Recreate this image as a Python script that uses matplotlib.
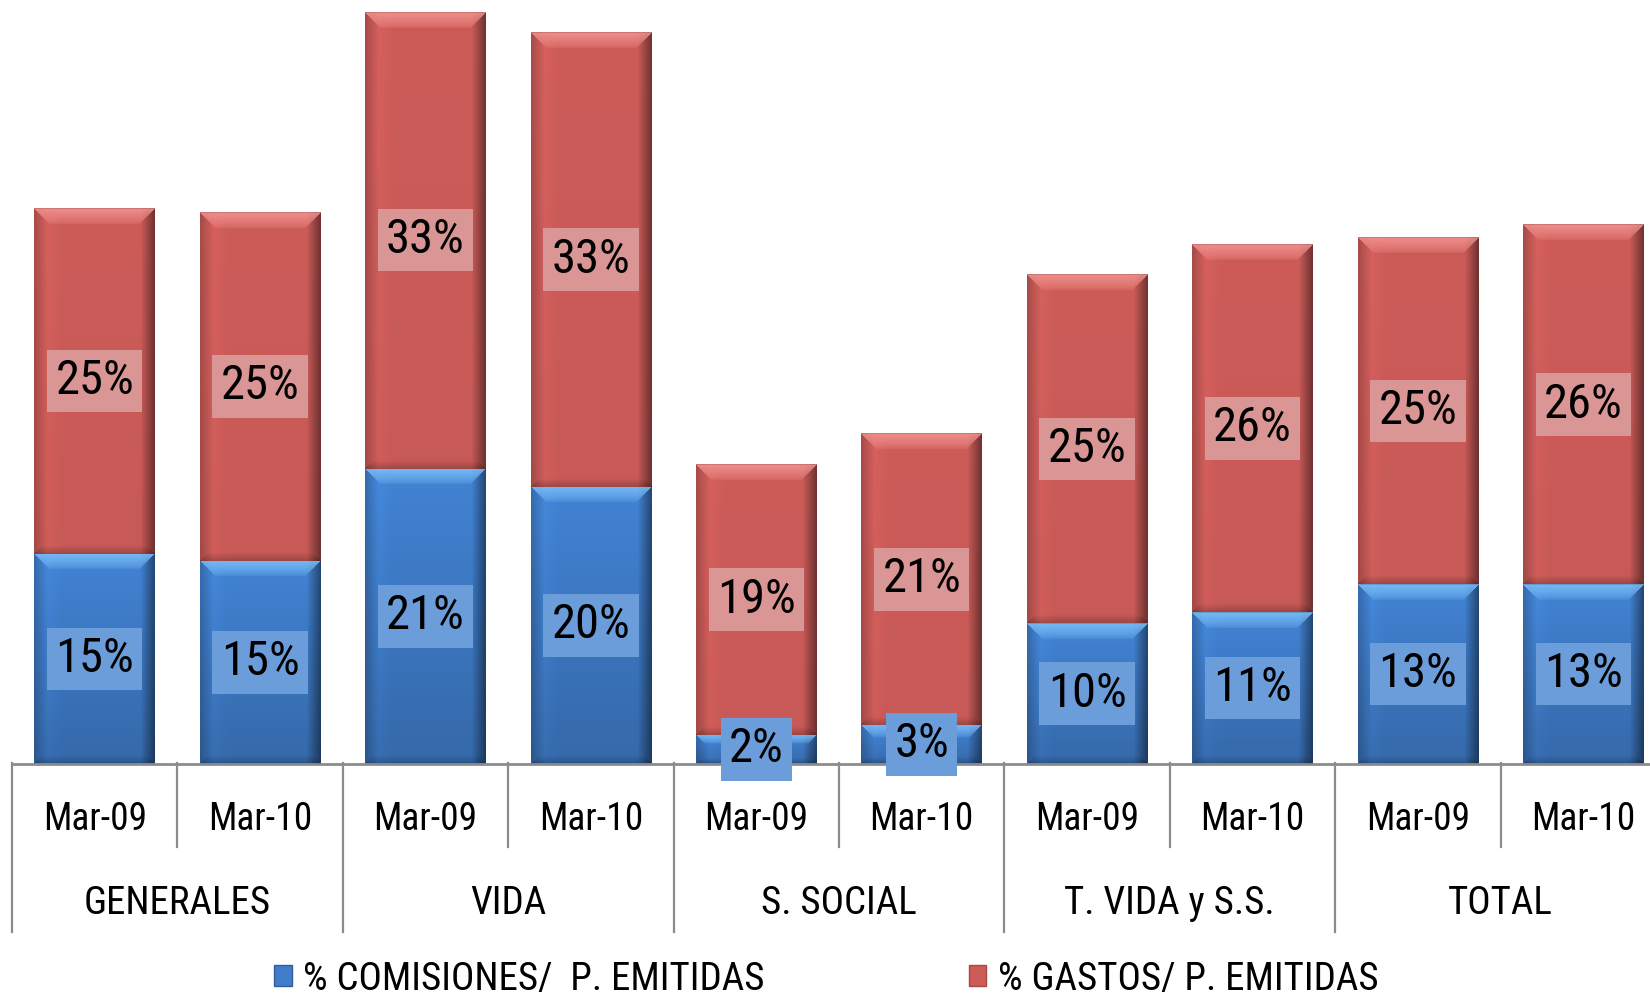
import numpy as np
import matplotlib
matplotlib.use("Agg")
import matplotlib.pyplot as plt
from matplotlib.colors import to_rgb
from matplotlib.patches import Patch
from matplotlib.transforms import blended_transform_factory

plt.rcParams['font.family'] = ['Liberation Sans Narrow', 'Roboto Condensed', 'Open Sans Condensed',
                               'Liberation Sans', 'DejaVu Sans']

# data (% of premiums)
groups = ['GENERALES', 'VIDA', 'S. SOCIAL', 'T. VIDA y S.S.', 'TOTAL']
periods = ['Mar-09', 'Mar-10']
comisiones = [15.1, 14.6, 21.2, 19.9, 2.1, 2.8, 10.1, 10.9, 12.9, 12.9]
gastos = [24.8, 25.0, 32.8, 32.6, 19.4, 20.9, 25.0, 26.4, 24.9, 25.8]
series_names = ['% COMISIONES/  P. EMITIDAS', '% GASTOS/ P. EMITIDAS']

BLUE = '#3F7DCA'
RED = '#CD5C59'
BLUE_LIGHT = '#7DC1FA'
RED_LIGHT = '#F49491'
BLUE_BOX = '#6C9DDB'
RED_BOX = '#DA9695'
GRID_GRAY = '#8C8C8C'

W, H = 1650, 1001
fig = plt.figure(figsize=(W / 100, H / 100), dpi=100)
ax = fig.add_axes([12 / W, 1 - 764 / H, 1654 / W, 764 / H])
ax.set_xlim(0, 10)
ax.set_ylim(0, 764 / 13.93)

x = np.arange(len(comisiones)) + 0.5
bw = 0.73
b1 = ax.bar(x, comisiones, bw, color=BLUE, zorder=2)
b2 = ax.bar(x, gastos, bw, bottom=comisiones, color=RED, zorder=2)


def bevel(color, light, w, h, vtop, vbot):
    base = np.array(to_rgb(color))
    lt = np.array(to_rgb(light))
    img = np.ones((h, w, 3)) * base
    v = np.linspace(vtop, vbot, h)[:, None]
    hf = np.ones(w)
    s = max(3, min(14, w // 8))
    hf[:s] = np.linspace(0.82, 1.04, s)
    hf[s:2 * s] = np.linspace(1.04, 1.0, s)
    hf[-s:] = np.linspace(0.97, 0.55, s)
    img = img * v[:, :, None] * hf[None, :, None]
    tb = max(2, min(16, h // 3))
    for r in range(tb):
        c0, c1 = r, w - r
        wt = 0.85 * (1 - r / tb) ** 0.6
        img[r, c0:c1] = img[r, c0:c1] * (1 - wt) + lt * wt
    img[0, :] = img[0, :] * 0.85
    bb = max(1, min(8, h // 5))
    for k in range(bb):
        r = h - 1 - k
        img[r, k:w - k] = img[r, k:w - k] * (0.8 + 0.2 * k / bb)
    return np.clip(img, 0, 1)


def shade(bars, color, light, vtop, vbot):
    for p in bars:
        x0, y0 = p.get_x(), p.get_y()
        x1, y1 = x0 + p.get_width(), y0 + p.get_height()
        (px0, py0), (px1, py1) = ax.transData.transform([(x0, y0), (x1, y1)])
        w = max(4, int(round(px1 - px0)))
        h = max(4, int(round(py1 - py0)))
        ax.imshow(bevel(color, light, w, h, vtop, vbot), extent=(x0, x1, y0, y1),
                  origin='upper', aspect='auto', interpolation='bilinear', zorder=2.1)


shade(b1, BLUE, BLUE_LIGHT, 1.05, 0.84)
shade(b2, RED, RED_LIGHT, 1.0, 0.97)
ax.set_xlim(0, 10)
ax.set_ylim(0, 764 / 13.93)

# data labels
for bars, vals, box in [(b1, comisiones, BLUE_BOX), (b2, gastos, RED_BOX)]:
    for p, v in zip(bars, vals):
        ax.text(p.get_x() + p.get_width() / 2, p.get_y() + p.get_height() / 2,
                f"{round(v):.0f}%", ha='center', va='center', fontsize=35, color='black',
                zorder=5, bbox=dict(boxstyle='square,pad=0.17', facecolor=box, edgecolor='none'))

# axis and category tick structure
for s in ['top', 'left', 'right']:
    ax.spines[s].set_visible(False)
ax.spines['bottom'].set_color(GRID_GRAY)
ax.spines['bottom'].set_linewidth(2)
ax.spines['bottom'].set_zorder(3)
ax.set_xticks([])
ax.set_yticks([])

tr = blended_transform_factory(ax.transData, fig.transFigure)
y_axis = 1 - 763 / H
for i in range(len(comisiones) + 1):
    y_end = 1 - (932 if i % 2 == 0 else 847) / H
    ax.plot([i, i], [y_axis, y_end], color=GRID_GRAY, lw=1.6, transform=tr, clip_on=False)

for i, xi in enumerate(x):
    ax.text(xi, 1 - 820 / H, periods[i % 2], ha='center', va='center', fontsize=27,
            transform=tr)
for g, name in enumerate(groups):
    ax.text(2 * g + 1, 1 - 903 / H, name, ha='center', va='center', fontsize=28,
            transform=tr)

handles = [Patch(facecolor=BLUE, edgecolor='#2F5E9C'), Patch(facecolor=RED, edgecolor='#A84845')]
fig.legend(handles, series_names, loc='center left', bbox_to_anchor=(274 / W, 22 / H),
           ncol=2, frameon=False, fontsize=28, handlelength=0.45, handleheight=0.45,
           handletextpad=0.3, columnspacing=5.25, borderpad=0, borderaxespad=0)

fig.savefig('out.png', dpi=100)
